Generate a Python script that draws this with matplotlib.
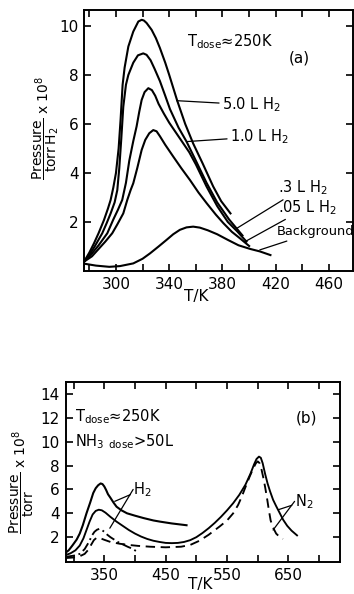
import matplotlib
matplotlib.use("Agg")
import matplotlib.pyplot as plt
from matplotlib.ticker import FixedLocator

plt.rcParams['font.family'] = ['DejaVu Sans']
plt.rcParams['mathtext.fontset'] = 'dejavusans'

# ---------------- panel (a) data ----------------
T_50 = [276, 280, 283.5, 287, 291, 294, 296, 298, 300, 302, 303.5, 305, 306.5, 309.3, 313, 316.8, 319.3, 321, 323, 326.8, 330, 333, 337, 340, 346, 352, 358, 365, 373, 379, 386]
P_50 = [0.38, 0.75, 1.13, 1.55, 2.08, 2.55, 2.9, 3.4, 4.0, 5.0, 6.2, 7.6, 8.3, 9.16, 9.77, 10.18, 10.25, 10.22, 10.12, 9.84, 9.5, 9.1, 8.5, 8.0, 6.95, 6.0, 5.2, 4.4, 3.45, 2.85, 2.35]

T_10 = [276, 280, 284, 289.7, 293, 296, 299, 301, 302.5, 304, 305.5, 307.5, 309.3, 313, 316.5, 320.5, 323, 326, 329, 333, 337, 340.6, 347, 353, 360, 368, 376, 385, 395]
P_10 = [0.38, 0.65, 1.0, 1.54, 1.95, 2.35, 2.8, 3.3, 4.2, 5.4, 6.7, 7.6, 8.0, 8.5, 8.8, 8.88, 8.82, 8.6, 8.25, 7.75, 7.15, 6.6, 5.85, 5.28, 4.5, 3.6, 2.8, 2.1, 1.45]

T_03 = [276, 281, 287, 293.5, 298, 301.5, 304.7, 307.5, 310, 313, 315.5, 317.5, 319.3, 321.5, 324.3, 327, 329.5, 332, 336, 340, 345, 350, 355, 360, 368, 376, 384, 391, 398]
P_03 = [0.38, 0.65, 1.05, 1.54, 2.1, 2.5, 2.9, 3.6, 4.5, 5.3, 5.9, 6.5, 6.98, 7.3, 7.46, 7.38, 7.15, 6.82, 6.42, 6.05, 5.65, 5.25, 4.85, 4.35, 3.45, 2.65, 2.0, 1.62, 1.2]

T_005 = [276, 282, 287, 292, 297.2, 301, 305.5, 308.5, 311, 313, 316, 319.3, 322, 325, 328, 330.5, 333, 337, 343, 349, 355.6, 362, 368.2, 375, 380.7, 387, 393.2, 400]
P_005 = [0.38, 0.6, 0.9, 1.2, 1.54, 1.9, 2.35, 2.9, 3.3, 3.58, 4.2, 4.94, 5.35, 5.62, 5.75, 5.7, 5.5, 5.15, 4.67, 4.2, 3.71, 3.2, 2.76, 2.3, 1.95, 1.6, 1.33, 1.02]

T_bg = [276, 285, 295, 303, 313, 320, 325.6, 332, 338, 343, 348, 353, 358, 363, 369, 376, 384, 392, 400.8, 408, 416]
P_bg = [0.3, 0.22, 0.17, 0.2, 0.31, 0.5, 0.72, 1.0, 1.27, 1.5, 1.68, 1.78, 1.81, 1.77, 1.66, 1.5, 1.27, 1.05, 0.9, 0.8, 0.65]

# ---------------- panel (b) data ----------------
T_h2a = [287, 292, 298, 305, 310, 315, 321, 327, 332, 336, 340, 344, 347, 350, 353, 356, 360, 365, 370, 378, 387, 400, 414, 430, 441, 460, 484]
P_h2a = [0.7, 0.9, 1.3, 1.8, 2.3, 3.0, 4.0, 4.9, 5.7, 6.1, 6.35, 6.5, 6.45, 6.25, 5.95, 5.6, 5.3, 4.9, 4.55, 4.25, 4.0, 3.8, 3.6, 3.4, 3.3, 3.15, 3.0]

T_sol = [287, 295, 303, 310, 316, 321, 326, 331, 336, 341, 346, 352, 360, 370, 380, 390, 400, 410, 420, 430, 440, 450, 460, 470, 480, 490, 500, 510, 520, 530, 540, 550, 560, 570, 580, 588, 594, 598, 602, 605, 608, 612, 616, 620, 625, 630, 636, 641.5, 648, 655, 664]
P_sol = [0.5, 0.65, 0.9, 1.3, 1.9, 2.6, 3.3, 3.9, 4.2, 4.3, 4.25, 4.05, 3.7, 3.3, 2.95, 2.6, 2.3, 2.05, 1.85, 1.7, 1.6, 1.52, 1.5, 1.52, 1.6, 1.75, 2.0, 2.35, 2.75, 3.2, 3.7, 4.25, 4.85, 5.55, 6.4, 7.3, 8.1, 8.55, 8.75, 8.65, 8.2, 7.3, 6.5, 5.85, 5.13, 4.6, 4.0, 3.45, 2.95, 2.55, 2.15]

T_dsh = [287, 300, 310, 318, 324, 329, 333, 337, 341, 345, 350, 360, 375, 390, 405, 425, 450, 475, 490, 505, 520, 538, 550, 560, 568, 574, 580, 587, 593, 597, 600, 603, 606, 609, 612, 615, 618, 621, 625, 630, 635, 641]
P_dsh = [0.25, 0.3, 0.4, 0.6, 0.95, 1.4, 1.75, 1.93, 1.95, 1.88, 1.78, 1.6, 1.45, 1.35, 1.27, 1.2, 1.15, 1.2, 1.35, 1.7, 2.2, 2.9, 3.4, 4.0, 4.7, 5.4, 6.2, 7.1, 7.8, 8.2, 8.35, 8.2, 7.7, 7.0, 6.2, 5.3, 4.3, 3.4, 2.8, 2.3, 2.05, 1.85]

T_dd = [287, 300, 310, 318, 325, 330, 334, 338, 342, 346, 350, 355, 360, 366, 372, 380, 388, 395, 403]
P_dd = [0.35, 0.45, 0.6, 1.0, 1.6, 2.15, 2.45, 2.62, 2.7, 2.6, 2.45, 2.2, 2.0, 1.8, 1.6, 1.4, 1.2, 1.05, 0.8]

xticks_a = [300, 340, 380, 420, 460]
yticks_a = [2, 4, 6, 8, 10]
xticks_b = [350, 450, 550, 650]
yticks_b = [2, 4, 6, 8, 10, 12, 14]

W, H = 354, 594
fig = plt.figure(figsize=(W / 100, H / 100), dpi=100)

def style(ax):
    for s in ax.spines.values():
        s.set_linewidth(1.4)
    ax.tick_params(which='both', direction='in', top=True, right=True,
                   width=1.2, labelsize=11, pad=4)
    ax.tick_params(which='major', length=5)
    ax.tick_params(which='minor', length=5)

LW = 1.5
lab_kw = dict(fontsize=10.5, va='center', ha='left')
lkw = dict(arrowprops=dict(arrowstyle='-', lw=0.9, color='black', shrinkA=0, shrinkB=0))

# ---- (a)
axa = fig.add_axes([84 / W, 1 - 271 / H, (353 - 84) / W, (271 - 10) / H])
for T, P in [(T_50, P_50), (T_10, P_10), (T_03, P_03), (T_005, P_005), (T_bg, P_bg)]:
    axa.plot(T, P, color='black', lw=LW)
axa.set_xlim(276, 478)
axa.set_ylim(0, 10.65)
axa.xaxis.set_major_locator(FixedLocator(xticks_a))
axa.xaxis.set_minor_locator(FixedLocator([280, 320, 360, 400, 440]))
axa.yaxis.set_major_locator(FixedLocator(yticks_a))
style(axa)

axa.text(353, 9.35, r'T$_{\mathrm{dose}}$≈250K', fontsize=10.5, va='center', ha='left')
axa.text(438, 8.7, '(a)', fontsize=11, va='center', ha='center')
axa.annotate(r'5.0 L H$_2$', xy=(345.6, 6.95), xytext=(379.5, 6.78), **lab_kw, **lkw)
axa.annotate(r'1.0 L H$_2$', xy=(353, 5.28), xytext=(385.5, 5.48), **lab_kw, **lkw)
axa.annotate(r'.3 L H$_2$', xy=(390.7, 1.74), xytext=(421.5, 3.4), **lab_kw, **lkw)
axa.annotate(r'.05 L H$_2$', xy=(397, 1.2), xytext=(421.5, 2.6), **lab_kw, **lkw)
axa.annotate('Background', xy=(408, 0.86), xytext=(420.5, 1.6),
             fontsize=9.4, va='center', ha='left', **lkw)
fig.text(196 / W, 1 - 296 / H, 'T/K', fontsize=11, ha='center', va='center')
fig.text(46 / W, 1 - 128 / H,
         r'$\dfrac{\mathrm{Pressure}}{\mathrm{torr\,H_2}}$ x $10^8$',
         fontsize=10, rotation=90, ha='center', va='center')

# ---- (b)
axb = fig.add_axes([65.5 / W, 1 - 562 / H, (340 - 65.5) / W, (562 - 382) / H])
axb.plot(T_h2a, P_h2a, color='black', lw=LW)
axb.plot(T_sol, P_sol, color='black', lw=LW * 0.9)
axb.plot(T_dsh, P_dsh, color='black', lw=LW * 0.9, ls=(0, (5, 3)))
axb.plot(T_dd, P_dd, color='black', lw=LW * 0.9, ls=(0, (5, 2, 1, 2)))
axb.set_xlim(286.8, 734)
axb.set_ylim(-0.08, 15.0)
axb.xaxis.set_major_locator(FixedLocator(xticks_b))
axb.xaxis.set_minor_locator(FixedLocator([300, 400, 500, 600, 700]))
axb.yaxis.set_major_locator(FixedLocator(yticks_b))
style(axb)

axb.text(302, 12.1, r'T$_{\mathrm{dose}}$≈250K', fontsize=10.5, va='center', ha='left')
axb.text(302, 10.0, r'NH$_3$ $_{\mathrm{dose}}$>50L', fontsize=10.5, va='center', ha='left')
axb.text(680, 12.0, '(b)', fontsize=11, va='center', ha='center')
axb.annotate(r'H$_2$', xy=(367, 5.0), xytext=(397, 6.0), **lab_kw, **lkw)
axb.annotate('', xy=(359, 2.75), xytext=(397, 6.0), **lkw)
axb.annotate(r'N$_2$', xy=(633.5, 4.3), xytext=(660, 5.0), **lab_kw, **lkw)
axb.annotate('', xy=(625, 2.6), xytext=(660, 5.0), **lkw)
fig.text(200 / W, 1 - 585 / H, 'T/K', fontsize=11, ha='center', va='center')
fig.text(22 / W, 1 - 482 / H,
         r'$\dfrac{\mathrm{Pressure}}{\mathrm{torr}}$ x $10^8$',
         fontsize=10, rotation=90, ha='center', va='center')

fig.savefig('out.png', dpi=100)
